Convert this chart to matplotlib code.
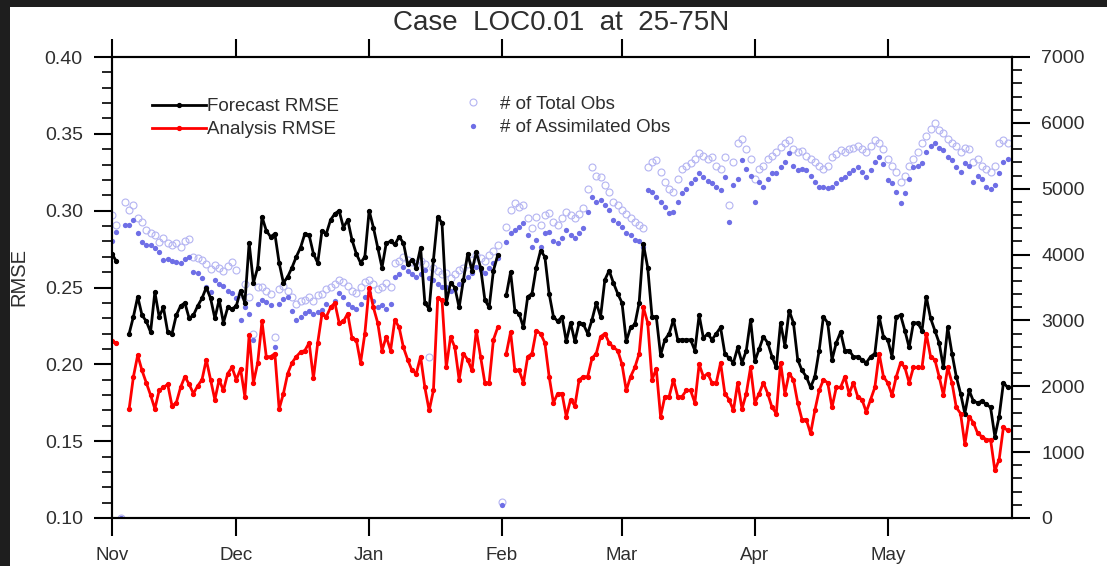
import numpy as np
import matplotlib
matplotlib.use('Agg')
import matplotlib.pyplot as plt
from matplotlib.patches import Rectangle
from matplotlib.ticker import MultipleLocator

nan = np.nan

# month starts on the day axis (as placed on the original plot)
month_ticks = [0, 29, 60, 91, 119, 150, 181]
month_labels = ['Nov', 'Dec', 'Jan', 'Feb', 'Mar', 'Apr', 'May']

forecast_rmse = [
    .272, .267, nan, nan, .220, .231, .244, .232, .228, .221,
    .247, .231, .237, .221, .220, .232, .238, .240, .230, .232,
    .238, .243, .250, .243, .230, .242, .227, .237, .236, .238,
    .248, .240, .279, .253, .263, .296, .287, .283, .285, .266,
    .253, .257, .263, .270, .276, .285, .284, .272, .266, .287,
    .285, .294, .298, .300, .289, .294, .281, .272, .266, .270,
    .300, .289, .276, .263, .279, .280, .278, .283, .279, .265,
    .268, .263, .276, .240, .236, .268, .296, .292, .240, .253,
    .250, .237, .255, .272, .261, .273, .263, .242, .237, .261,
    .271, nan, .245, .260, .235, .233, .224, .244, .246, .263,
    .274, .270, .246, .231, .228, .231, .215, .227, .215, .227,
    .226, .220, .229, .240, .231, .255, .261, .253, .246, .240,
    .215, .224, .226, .240, .278, .263, .231, .231, .206, .216,
    .220, .229, .216, .216, .216, .216, .209, .232, .217, .220,
    .216, .220, .224, .207, .204, .201, .211, .201, .209, .229,
    .202, .210, .218, .214, .205, .198, .227, .212, .235, .227,
    .203, .196, .192, .185, .192, .209, .231, .227, .203, .214,
    .221, .209, .209, .205, .205, .203, .201, .205, .207, .231,
    .218, .216, .205, .231, .232, .222, .211, .227, .227, .222,
    .244, .230, .222, .214, .198, .224, .207, .192, .181, .168,
    .183, .176, .175, .176, .174, .172, .153, .166, .188, .185,
]

analysis_rmse = [
    .215, .214, nan, nan, .171, .192, .206, .196, .188, .180,
    .171, .183, .185, .187, .173, .175, .185, .192, .187, .181,
    .186, .190, .203, .190, .177, .190, .183, .194, .198, .190,
    .197, .179, .219, .188, .201, .228, .205, .205, .207, .171,
    .181, .194, .201, .205, .208, .209, .214, .191, .214, .233,
    .231, .237, .240, .227, .228, .233, .217, .216, .201, .220,
    .250, .237, .227, .209, .218, .209, .229, .224, .211, .203,
    .196, .194, .205, .185, .170, .183, .243, .242, .198, .218,
    .211, .190, .207, .203, .196, .222, .205, .188, .188, .216,
    .224, nan, .207, .221, .196, .196, .188, .205, .207, .222,
    .220, .214, .192, .175, .181, .181, .166, .177, .173, .190,
    .192, .192, .204, .207, .218, .220, .214, .211, .209, .200,
    .183, .192, .198, .207, .237, .227, .190, .197, .166, .179,
    .179, .190, .179, .179, .183, .183, .175, .200, .192, .194,
    .188, .188, .201, .181, .177, .170, .188, .171, .181, .198,
    .175, .181, .188, .181, .172, .168, .201, .181, .194, .190,
    .175, .164, .164, .155, .170, .183, .190, .188, .172, .185,
    .185, .192, .181, .188, .179, .177, .169, .177, .185, .207,
    .192, .188, .180, .192, .201, .198, .188, .198, .198, .198,
    .220, .205, .203, .192, .180, .198, .188, .172, .168, .148,
    .166, .162, .155, .153, .151, .151, .131, .138, .159, .157,
]

total_obs = [
    4600, 4450, 0, 4800, 4680, 4750, 4550, 4500, 4370, 4330,
    4300, 4190, 4250, 4170, 4150, 4180, 4110, 4200, 4240, 3960,
    3950, 3920, 3850, 3780, 3840, 3800, 3750, 3820, 3890, 3760,
    3400, 3550, 3350, 2800, 3500, 3500, 3450, 3400, 2750, 3480,
    3520, 3450, 3350, 3250, 3300, 3310, 3350, 3300, 3380, 3400,
    3480, 3500, 3560, 3610, 3580, 3520, 3450, 3420, 3500, 3580,
    3610, 3550, 3480, 3500, 3570, 3500, 3870, 3900, 3960, 3920,
    3880, 3850, 3900, 3850, 2450, 3800, 3750, 3700, 3720, 3650,
    3700, 3760, 3800, 3850, 3920, 4000, 3950, 3900, 4000, 4050,
    4150, 250, 4420, 4680, 4780, 4720, 4750, 4550, 4400, 4570,
    4450, 4600, 4630, 4500, 4450, 4550, 4650, 4600, 4550, 4620,
    4700, 5000, 5330, 5200, 5180, 5050, 4950, 4800, 4750, 4680,
    4620, 4550, 4500, 4450, 4400, 5330, 5400, 5430, 5250, 5100,
    5000, 4950, 5150, 5300, 5350, 5390, 5450, 5540, 5500, 5450,
    5480, 5350, 5300, 5480, 4750, 5400, 5690, 5760, 5600, 5450,
    5150, 5300, 5350, 5450, 5500, 5550, 5630, 5700, 5740, 5600,
    5550, 5580, 5500, 5450, 5400, 5350, 5300, 5350, 5480, 5520,
    5590, 5560, 5600, 5620, 5650, 5600, 5550, 5650, 5740, 5700,
    5600, 5450, 5350, 5250, 5100, 5200, 5350, 5450, 5550, 5690,
    5800, 5900, 6000, 5890, 5850, 5750, 5700, 5650, 5550, 5620,
    5600, 5400, 5450, 5350, 5300, 5250, 5350, 5690, 5740, 5700,
]

assim_obs = [
    4200, 4350, 0, 4450, 4450, 4520, 4330, 4190, 4150, 4140,
    4100, 4040, 3920, 3940, 3900, 3890, 3870, 3930, 3960, 3730,
    3720, 3650, 3510, 3430, 3610, 3550, 3520, 3450, 3410, 3340,
    3000, 3200, 3100, 2700, 3250, 3310, 3280, 3230, 2600, 3250,
    3330, 3360, 3150, 3000, 3050, 3110, 3150, 3100, 3130, 3160,
    3250, 3200, 3300, 3410, 3350, 3250, 3200, 3180, 3250, 3350,
    3410, 3300, 3200, 3230, 3180, 3250, 3660, 3700, 3810, 3750,
    3700, 3660, 3700, 3760, 3650, 3610, 3550, 3500, 3510, 3450,
    3480, 3550, 3620, 3660, 3720, 3810, 3760, 3720, 3800, 3870,
    3950, 200, 4190, 4330, 4370, 4420, 4480, 4300, 4110, 4220,
    4110, 4330, 4340, 4200, 4170, 4250, 4370, 4300, 4250, 4330,
    4400, 4650, 4870, 4800, 4830, 4750, 4680, 4520, 4480, 4420,
    4330, 4300, 4220, 4200, 4110, 4980, 4950, 4870, 4800, 4720,
    4630, 4650, 4800, 4930, 5000, 5090, 5150, 5240, 5180, 5120,
    5090, 5020, 4980, 5180, 4490, 5050, 5150, 5430, 5300, 5200,
    4800, 5100, 5030, 5150, 5240, 5240, 5330, 5400, 5540, 5350,
    5280, 5300, 5280, 5200, 5100, 5030, 5020, 5010, 5030, 5090,
    5150, 5180, 5240, 5280, 5330, 5250, 5180, 5280, 5400, 5480,
    5380, 5130, 5080, 4950, 4780, 4930, 5150, 5330, 5350, 5390,
    5550, 5650, 5690, 5620, 5590, 5480, 5430, 5330, 5250, 5390,
    5350, 5100, 5200, 5150, 5030, 5000, 5060, 5240, 5400, 5450,
]

days = np.arange(len(forecast_rmse))

plt.rcParams['font.family'] = ['Liberation Sans', 'DejaVu Sans']
txtc = '#2e2e2e'
W, H = 1107, 566

fig = plt.figure(figsize=(W / 100, H / 100), dpi=100, facecolor='#1e1e1e')
fig.add_artist(Rectangle((10 / W, 0), 1, 559 / H, transform=fig.transFigure,
                         facecolor='white', edgecolor='none', zorder=-10))

ax = fig.add_axes([112 / W, 48 / H, 900 / W, 461 / H])
ax2 = ax.twinx()
ax.set_zorder(ax2.get_zorder() + 1)
ax.patch.set_visible(False)

# obs counts on the right axis
ax2.plot(days, total_obs, 'o', ms=5, mfc='none', mec='#b4b4f2', mew=0.8,
         label='# of Total Obs')
ax2.plot(days, assim_obs, 'o', ms=3.8, mfc='#6e6ee6', mec='#6e6ee6', mew=0,
         label='# of Assimilated Obs')

# rmse lines on the left axis
ax.plot(days, forecast_rmse, '-o', color='black', lw=2, ms=2.8, label='Forecast RMSE')
ax.plot(days, analysis_rmse, '-o', color='red', lw=2, ms=2.8, label='Analysis RMSE')

ax.set_xlim(0, 210)
ax.set_ylim(0.10, 0.40)
ax2.set_ylim(0, 7000)

ax.set_xticks(month_ticks)
ax.set_xticklabels(month_labels)
ax.set_yticks(np.arange(0.10, 0.401, 0.05))
ax.set_yticklabels(['%.2f' % v for v in np.arange(0.10, 0.401, 0.05)])
ax.yaxis.set_minor_locator(MultipleLocator(0.01))
ax2.set_yticks(range(0, 7001, 1000))
ax2.yaxis.set_minor_locator(MultipleLocator(200))

ax.tick_params(axis='x', which='major', direction='out', length=13, width=1.5,
               top=True, pad=8, labelsize=13.5, labelcolor=txtc)
ax.tick_params(axis='y', which='major', direction='out', length=13, width=1.5,
               pad=8, labelsize=14, labelcolor=txtc)
ax.tick_params(axis='y', which='minor', direction='out', length=7, width=1.2)
ax2.tick_params(axis='y', which='major', direction='out', length=13, width=1.5,
                pad=8, labelsize=14, labelcolor=txtc)
ax2.tick_params(axis='y', which='minor', direction='out', length=7, width=1.2)
for a in (ax, ax2):
    for s in a.spines.values():
        s.set_linewidth(1.5)

fig.text(561 / W, 1 - 30 / H, 'Case  LOC0.01  at  25-75N', ha='center',
         va='baseline', fontsize=20, color=txtc)
fig.text(19 / W, 1 - 277 / H, 'RMSE', rotation=90, ha='center', va='center',
         fontsize=14.5, color=txtc)

leg1 = ax.legend(loc='upper left', bbox_to_anchor=(0.044, 0.911), frameon=False,
                 borderpad=0, borderaxespad=0, handlelength=2.9, handletextpad=0.05,
                 labelspacing=0.33, fontsize=13.5, numpoints=1)
for t in leg1.get_texts():
    t.set_color(txtc)
leg2 = ax2.legend(loc='upper left', bbox_to_anchor=(0.391, 0.916), frameon=False,
                  borderpad=0, borderaxespad=0, handlelength=1.0, handletextpad=0.9,
                  labelspacing=0.33, fontsize=13.5, numpoints=1)
for t in leg2.get_texts():
    t.set_color(txtc)

fig.savefig('out.png', dpi=100, facecolor=fig.get_facecolor())
